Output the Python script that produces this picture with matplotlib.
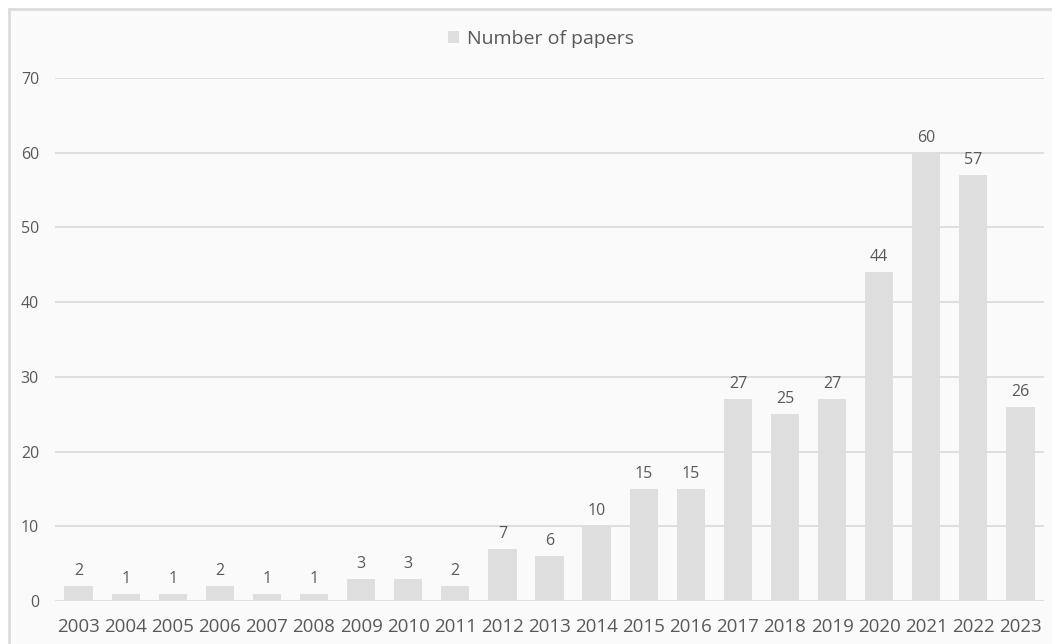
import matplotlib
matplotlib.use("Agg")
from matplotlib import pyplot as plt
from matplotlib.patches import Rectangle
import numpy as np

plt.rcParams['font.family'] = ['Open Sans', 'DejaVu Sans']

# data
years = [str(y) for y in range(2003, 2024)]
papers = [2, 1, 1, 2, 1, 1, 3, 3, 2, 7, 6, 10, 15, 15, 27, 25, 27, 44, 60, 57, 26]
series_name = 'Number of papers'

bar_color = '#dedede'
text_color = '#595959'
grid_color = '#dcdcdc'
bg = '#fafafa'

W, H = 1052, 644
fig = plt.figure(figsize=(W / 100, H / 100), dpi=100, facecolor='white')

# chart frame (light border, top-left visible)
fig.patches.append(Rectangle((9 / W, -0.1), 1.2, (H - 9) / H + 0.1, transform=fig.transFigure,
                             facecolor=bg, edgecolor=grid_color, linewidth=2, zorder=-10))

ax = fig.add_axes([55 / W, 43 / H, (1044 - 55) / W, (601 - 78) / H])
ax.set_facecolor('none')

x = np.arange(len(years))
bars = ax.bar(x, papers, width=0.6, color=bar_color, label=series_name, zorder=3)

for xi, v in zip(x, papers):
    ax.annotate(str(v), (xi, v), xytext=(0, 5), textcoords='offset points',
                ha='center', va='bottom', fontsize=11.5, color=text_color)

ax.set_xlim(-0.5, len(years) - 0.5)
ax.set_ylim(0, 70)
ax.set_yticks(range(0, 71, 10))
ax.set_xticks(x)
ax.set_xticklabels(years)
ax.tick_params(axis='x', length=0, pad=12, labelsize=13.5, colors=text_color)
ax.tick_params(axis='y', length=0, pad=11.5, labelsize=11.5, colors=text_color)

ax.grid(axis='y', color=grid_color, linewidth=1.3, zorder=0)
for s in ax.spines.values():
    s.set_visible(False)

fig.legend(handles=[bars], labels=[series_name], loc='center', bbox_to_anchor=(541 / W, 1 - 39 / H),
           frameon=False, fontsize=14, labelcolor=text_color, handlelength=0.6, handleheight=0.6,
           handletextpad=0.4)

fig.savefig('out.png', dpi=100, facecolor='white')
